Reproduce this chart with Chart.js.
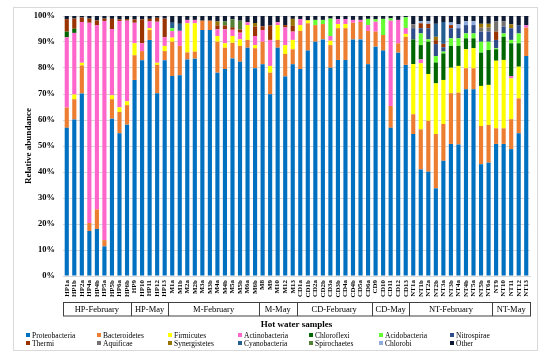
<!DOCTYPE html>
<html>
<head>
<meta charset="utf-8">
<script src="https://cdn.jsdelivr.net/npm/chart.js@4.4.1/dist/chart.umd.min.js"></script>
<style>
  html, body { margin: 0; padding: 0; background: #fff; }
  #wrap { position: relative; width: 550px; height: 359px; }
  #legend { position: absolute; left: 0; top: 0; width: 550px; height: 359px; pointer-events: none;
            font-family: "Liberation Serif", "Times New Roman", serif; font-size: 7.5px; color: #000; }
  .lg { position: absolute; white-space: nowrap; line-height: 8px; }
  .lg i { display: inline-block; width: 4px; height: 4px; margin-right: 2px; vertical-align: 1px; }
</style>
</head>
<body>
<div id="wrap">
  <canvas id="abundanceChart" width="550" height="359"></canvas>
  <div id="legend"></div>
</div>
<script>
// Sample names (x axis)
const samples = [
  'HP1a','HP1b','HP2a','HP4a','HP4b','HP5a','HP5b','HP6a','HP6b','HP9','HP10','HP11','HP12','HP13',
  'M1a','M1b','M2a','M2b','M3a','M3b','M4a','M4b','M5a','M5b','M6a','M6b','M8','M9','M10','M12','M13',
  'CD1a','CD1b','CD2a','CD2b','CD3a','CD3b','CD4a','CD4b','CD5a','CD6a','CD9','CD10','CD11','CD12','CD13',
  'NT1a','NT1b','NT2a','NT2b','NT3a','NT3b','NT4a','NT4b','NT5a','NT5b','NT6a','NT9','NT10','NT11','NT12','NT13'
];

// Sample groups under the axis
const groupNames = ['HP-February','HP-May','M-February','M-May','CD-February','CD-May','NT-February','NT-May'];
const groupSizes = [9, 5, 12, 5, 10, 5, 11, 5];

const yTicks = [0, 10, 20, 30, 40, 50, 60, 70, 80, 90, 100];

// Relative abundance (%) per phylum; order: HP | M | CD | NT
const proteobacteria = [
  57, 60.2, 70.2, 17.3, 18.1, 11.4, 60.5, 54.9, 58.2, 75.4, 83, 90.8, 70.3, 83,
  76.9, 77.2, 83.3, 83.6, 94.6, 94.6, 78.2, 79.6, 83.7, 82.4, 87.8, 79.9, 81.4, 69.9, 87.8, 76.7, 81.4,
  79.6, 86.7, 90.1, 91, 80.1, 83.1, 83.1, 91, 91, 81.4, 88.2, 86.7, 57, 85.9, 81.2,
  54.6, 41, 40.1, 33.7, 44.3, 50.8, 50.6, 71.8, 71.8, 43, 43.6, 50.8, 50.8, 48.8, 54.9, 84.6
];
const bacteroidetes = [
  7.8, 7.8, 10.8, 3.1, 7.5, 2.4, 7.5, 8.2, 7.5, 9.5, 3.5, 3.8, 10.9, 3.5,
  13.2, 11.3, 2.7, 2.7, 3.6, 3.6, 11.9, 8.2, 6, 6.1, 3, 7.7, 8.7, 8.3, 3, 8.7, 5.8,
  14.7, 10.5, 6.4, 5.9, 8.7, 12.2, 12.2, 6.4, 6.7, 12.9, 5.8, 6, 8.4, 3.6, 10.8,
  7.6, 15.4, 19.6, 20.9, 14.2, 19.5, 19.9, 8.1, 8.1, 14.7, 14.5, 6, 6, 11.5, 13.4, 10.9
];
const firmicutes = [
  0, 1.8, 1, 0, 0, 0, 1.5, 1.8, 1.5, 4.6, 0, 0.7, 0.8, 2,
  1.6, 0, 11.2, 10.9, 0, 0, 2.2, 1.7, 2.6, 2.5, 5.7, 1.2, 0, 2.6, 5.7, 3.4, 3.6,
  2.2, 1.1, 0, 0, 1.7, 1.6, 1.6, 0, 0, 0, 0, 0, 0, 0, 1.1,
  19.3, 25.4, 18, 19.5, 16.9, 9.8, 10.3, 7.3, 7.7, 15.4, 15.4, 26, 26.3, 15.7, 12.2, 0
];
const actinobacteria = [
  27, 23.7, 15.7, 77, 70.8, 84.3, 25.5, 33.2, 31, 7.9, 3, 2.6, 15.8, 3.3,
  2.5, 5.8, 1.3, 1.3, 0, 0, 2.6, 5.4, 2.4, 2.6, 1.1, 3.5, 4.5, 10, 1.1, 6.8, 3.2,
  2.3, 0, 0, 0, 1.8, 1.9, 1.9, 1.1, 0.8, 2.2, 3.8, 0, 32.8, 9, 2.3,
  0, 1.5, 0, 0, 0, 0, 0, 0, 0, 0, 0, 0, 0, 0.9, 0, 0.9
];
const chloroflexi = [
  2.2, 1.6, 0, 0, 0, 0, 0, 0, 0, 0, 0, 0, 0, 0,
  0, 0, 0, 0, 0, 0, 0, 0, 0, 0, 0, 0, 0, 0, 0, 0, 0,
  0, 0, 0, 0, 0, 0, 0, 0, 0, 0, 0, 0, 0, 0, 0,
  9.5, 5.5, 12.4, 8, 10.2, 8.4, 7.7, 4.2, 3.8, 12.8, 13.4, 4.4, 8.9, 12.6, 9, 0
];
const acidobacteria = [
  0, 0, 0, 0, 0, 0, 0, 0, 0, 0, 0, 0, 0, 0,
  1.1, 0, 0, 0, 0, 0, 0, 0, 0, 0, 0, 0, 0, 0, 0, 0, 0,
  0, 0, 2, 1.6, 6.7, 0, 0, 0, 0, 2.4, 0.9, 6.2, 0.9, 0, 4.1,
  0, 4.5, 0.9, 2.5, 0.7, 2.9, 2.9, 1.9, 1.9, 4.2, 3.2, 0.4, 1.3, 1.3, 3.8, 0
];
const nitrospirae = [
  0, 0, 0, 0, 0, 0, 0, 0, 0, 0, 0, 0, 0, 0,
  0, 0, 0, 0, 0, 0, 0, 0, 0, 0, 0, 0, 0, 0, 0, 0, 0,
  0, 0, 0, 0, 0, 0, 0, 0, 0, 0, 0, 0, 0, 0, 0,
  4.3, 2, 4.3, 4.6, 1.7, 3.9, 3.9, 3.2, 3.2, 3.9, 3.9, 3.2, 2.6, 4.5, 3.2, 0
];
const thermi = [
  4.8, 3.9, 1.7, 1.6, 1.9, 0.9, 3.9, 0.6, 0.6, 1.3, 9.2, 1, 1.5, 7.2,
  0, 0, 0, 0, 0, 0, 1.5, 1.5, 1, 1.2, 0, 3.6, 1.4, 5.5, 0, 0.9, 2.2,
  0, 0, 0, 0, 0, 0, 0, 0, 0, 0, 0, 0, 0, 0, 0,
  0, 1.9, 1.7, 1.5, 1.3, 1.2, 0, 0, 0, 0, 0, 3.2, 0, 0, 0, 0
];
const aquificae = [
  0, 0, 0, 0, 0, 0, 0, 0, 0, 0, 0, 0, 0, 0,
  0, 0, 0, 0, 0, 0, 0, 0, 0, 0, 0, 0, 0, 0, 0, 0, 0,
  0, 0, 0, 0, 0, 0, 0, 0, 0, 0, 0, 0, 0, 0, 0,
  1.5, 0, 0, 0, 0, 0, 0, 0, 0, 1.5, 1.5, 4, 2, 0, 0, 0
];
const synergistetes = [
  0, 0, 0, 0, 0, 0, 0, 0, 0, 0, 0, 0, 0, 0,
  0, 0, 0, 0, 0, 0, 1.5, 0, 0, 0, 0, 1.4, 0, 0, 0, 0, 2.7,
  0, 0, 0, 0, 0, 0, 0, 0, 0, 0, 0, 0, 0, 0, 0,
  0, 0, 0, 1.3, 0, 0, 0, 0, 0, 1.5, 1.5, 0, 0, 1.5, 0, 0
];
const cyanobacteria = [
  0, 0, 0, 0, 0, 0, 0, 0, 0, 0, 0, 0, 0, 0,
  2.1, 2.7, 0, 0, 0, 0, 0, 0, 0, 0, 0, 0, 0, 0, 0, 0, 0,
  0, 0, 0, 0, 0, 0, 0, 0, 0, 0, 0, 0, 0, 0, 0,
  0, 0, 0, 5, 8.4, 0, 0, 0, 0, 0, 0, 0, 0, 0, 0, 0
];
const spirochaetes = [
  0, 0, 0, 0, 0, 0, 0, 0, 0, 0, 0, 0, 0, 0,
  0, 0, 0, 0, 0, 0, 0, 1.5, 3, 3.4, 0, 0, 0, 0, 0, 0, 0,
  0, 0, 0, 0, 0, 0, 0, 0, 0, 0, 0, 0, 0, 0, 0,
  0, 0, 0, 0, 0, 0, 0, 0, 0, 0, 0, 0, 0, 0, 0, 0
];
const chlorobi = [
  0, 0, 0, 0, 0, 0, 0, 0, 0, 0, 0, 0, 0, 0,
  0, 0, 0, 0, 0, 0, 0, 0, 0, 0, 0, 0, 0, 0, 0, 0, 0,
  0, 0, 0, 0, 0, 0, 0, 0, 0, 0, 0, 0, 0, 0, 0,
  0, 0.8, 1, 0, 0, 1, 1.5, 1.5, 1.5, 0, 0, 0, 0, 0, 0, 0
];
const other = [
  1.2, 1, 0.6, 1, 1.7, 1, 1.1, 1.3, 1.2, 1.3, 1.3, 1.1, 0.7, 1,
  2.6, 3, 1.5, 1.5, 1.8, 1.8, 2.1, 2.1, 1.3, 1.8, 2.4, 2.7, 4, 3.7, 2.4, 3.5, 1.1,
  1.2, 1.7, 1.5, 1.5, 1, 1.2, 1.2, 1.5, 1.5, 1.1, 1.3, 1.1, 0.9, 1.5, 0.5,
  3.2, 2, 2, 3, 2.3, 2.5, 3.2, 2, 2, 3, 3, 2, 2.1, 3.2, 3.5, 3.6
];

const seriesNames = ['Proteobacteria','Bacteroidetes','Firmicutes','Actinobacteria','Chloroflexi','Acidobacteria','Nitrospirae',
                     'Thermi','Aquificae','Synergistetes','Cyanobacteria','Spirochaetes','Chlorobi','Other'];
const seriesData = [proteobacteria, bacteroidetes, firmicutes, actinobacteria, chloroflexi, acidobacteria, nitrospirae,
                    thermi, aquificae, synergistetes, cyanobacteria, spirochaetes, chlorobi, other];
const seriesColors = ['#0070c0','#ed7d31','#ffff00','#ff66cc','#006600','#66ff33','#2f4d8a',
                      '#993300','#767171','#997300','#255e91','#548235','#8faadc','#0f1a33'];

const serif = '"Liberation Serif", "Times New Roman", serif';

// frame + group table under the sample names
const groupTable = {
  id: 'groupTable',
  beforeDraw(chart) {
    const ctx = chart.ctx;
    ctx.save();
    ctx.fillStyle = '#fff';
    ctx.fillRect(0, 0, chart.width, chart.height);
    ctx.strokeStyle = '#d9d9d9';
    ctx.lineWidth = 1;
    ctx.strokeRect(13.5, 7.5, 524, 343);
    ctx.restore();
  },
  afterDraw(chart) {
    const x = chart.scales.x, ctx = chart.ctx;
    const top = 302, bottom = 315.5;
    ctx.save();
    ctx.strokeStyle = '#404040';
    ctx.lineWidth = 1;
    ctx.strokeRect(Math.round(x.left) + 0.5, top + 0.5, Math.round(x.right - x.left), bottom - top);
    ctx.fillStyle = '#000';
    ctx.font = '8.5px ' + serif;
    ctx.textAlign = 'center';
    ctx.textBaseline = 'middle';
    let start = 0;
    groupSizes.forEach((n, g) => {
      const end = start + n - 1;
      const x0 = start === 0 ? x.left : (x.getPixelForValue(start - 1) + x.getPixelForValue(start)) / 2;
      const x1 = end === samples.length - 1 ? x.right : (x.getPixelForValue(end) + x.getPixelForValue(end + 1)) / 2;
      if (g > 0) {
        ctx.beginPath();
        ctx.moveTo(Math.round(x0) + 0.5, top);
        ctx.lineTo(Math.round(x0) + 0.5, bottom + 0.5);
        ctx.stroke();
      }
      ctx.fillText(groupNames[g], (x0 + x1) / 2, (top + bottom) / 2 + 1);
      start += n;
    });
    ctx.restore();
  }
};

new Chart(document.getElementById('abundanceChart'), {
  type: 'bar',
  data: {
    labels: samples,
    datasets: seriesNames.map((name, i) => ({
      label: name,
      data: seriesData[i],
      backgroundColor: seriesColors[i],
      borderWidth: 0,
      barPercentage: 0.55,
      categoryPercentage: 1
    }))
  },
  options: {
    responsive: false,
    animation: false,
    layout: { padding: { left: 20, right: 20, top: 16, bottom: 29 } },
    plugins: {
      legend: { display: false },
      tooltip: { enabled: false }
    },
    scales: {
      x: {
        stacked: true,
        grid: { display: false, drawTicks: false },
        border: { display: true, color: '#d9d9d9' },
        ticks: {
          autoSkip: false, maxRotation: 90, minRotation: 90, padding: 4,
          color: '#000', font: { family: serif, size: 7, weight: 'bold' }
        },
        title: {
          display: true, text: 'Hot water samples', color: '#000', padding: 0,
          font: { family: serif, size: 9, weight: 'bold' }
        },
        afterFit(scale) { scale.height = 54; }
      },
      y: {
        stacked: true,
        min: 0,
        max: 100,
        afterBuildTicks(scale) { scale.ticks = yTicks.map(v => ({ value: v })); },
        grid: { color: '#d9d9d9', drawTicks: false },
        border: { display: false },
        ticks: {
          padding: 8, color: '#000',
          font: { family: serif, size: 8.5, weight: 'bold' },
          callback: v => v + '%'
        },
        title: {
          display: true, text: 'Relative abundance', color: '#000', padding: { top: 3, bottom: 0 },
          font: { family: serif, size: 9, weight: 'bold' }
        },
        afterFit(scale) { scale.width = 43; }
      }
    }
  },
  plugins: [groupTable]
});

// legend, 7 columns x 2 rows
const legendCols = [26, 97, 168, 238, 309, 379, 450];
const legendRows = [331.5, 340];
const legendBox = document.getElementById('legend');
seriesNames.forEach((name, i) => {
  const item = document.createElement('div');
  item.className = 'lg';
  item.style.left = legendCols[i % 7] + 'px';
  item.style.top = legendRows[Math.floor(i / 7)] + 'px';
  item.innerHTML = '<i style="background:' + seriesColors[i] + '"></i>' + name;
  legendBox.appendChild(item);
});
</script>
</body>
</html>
